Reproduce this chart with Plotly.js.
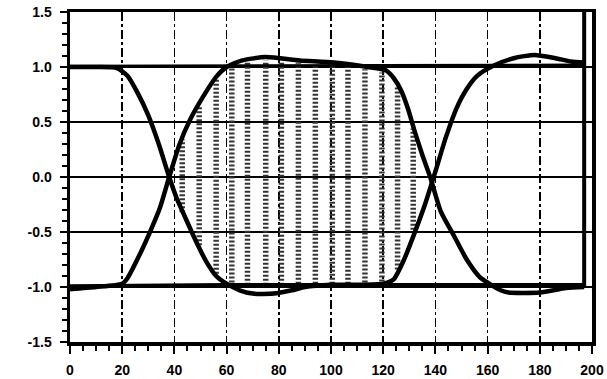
<!DOCTYPE html>
<html>
<head>
<meta charset="utf-8">
<script src="https://cdn.plot.ly/plotly-3.0.1.min.js"></script>
<style>html,body{margin:0;padding:0;background:#fff;}#chart{width:607px;height:379px;}</style>
</head>
<body>
<div id="chart"></div>
<script>
// Eye-diagram traces
var traceA_x = [0, 10, 18, 22, 26, 30, 34, 38, 41, 44, 48, 52, 56, 60, 65, 70, 78, 85, 90, 100, 110, 120, 124, 128, 132, 136, 140, 144, 148, 152, 156, 162, 170, 178, 186, 192, 197];
var traceA_y = [1.0, 1.0, 0.99, 0.92, 0.76, 0.56, 0.30, 0.0, -0.2, -0.36, -0.57, -0.76, -0.9, -0.97, -1.03, -1.06, -1.06, -1.03, -1.0, -0.98, -0.98, -0.97, -0.93, -0.75, -0.51, -0.25, 0.05, 0.36, 0.62, 0.8, 0.92, 1.01, 1.08, 1.11, 1.08, 1.05, 1.04];

var traceB_x = [0, 10, 20, 22, 27, 31, 34.6, 38, 42, 46, 51, 56, 60, 66, 75, 88, 101, 114, 121, 124, 127, 129.5, 132, 135, 138, 142, 147, 152, 157, 160, 165, 168, 180, 190, 197];
var traceB_y = [-1.02, -1.0, -0.97, -0.92, -0.69, -0.48, -0.27, 0.0, 0.3, 0.52, 0.73, 0.91, 1.0, 1.06, 1.09, 1.06, 1.04, 1.0, 0.97, 0.9, 0.78, 0.62, 0.42, 0.2, 0.0, -0.31, -0.53, -0.75, -0.91, -0.96, -1.03, -1.05, -1.05, -1.01, -1.0];

var flatLow_x = [0, 60, 120, 197];
var flatLow_y = [-0.99, -0.98, -0.98, -0.98];
var flatHigh_x = [0, 197];
var flatHigh_y = [1.01, 1.02];
var edge_x = [197, 197];
var edge_y = [-1.0, 1.5];

// Stippled columns inside the eye opening
var colX   = [43, 49.5, 56, 62, 68, 75, 81, 87.5, 94, 100.5, 106.5, 113, 119.5, 125.5, 131.5];
var colTop = [0.34, 0.64, 0.89, 1.0, 1.04, 1.06, 1.06, 1.04, 1.03, 1.02, 1.0, 0.98, 0.95, 0.82, 0.44];
var colBot = [-0.32, -0.62, -0.88, -0.96, -0.98, -0.98, -0.98, -0.97, -0.97, -0.97, -0.97, -0.96, -0.95, -0.84, -0.48];

// Tick labels
var xTickVals = [0, 20, 40, 60, 80, 100, 120, 140, 160, 180, 200];
var xTickText = ['0', '20', '40', '60', '80', '100', '120', '140', '160', '180', '200'];
var yTickVals = [-1.5, -1.0, -0.5, 0.0, 0.5, 1.0, 1.5];
var yTickText = ['-1.5', '-1.0', '-0.5', '0.0', '0.5', '1.0', '1.5'];

var data = [];
for (var i = 0; i < colX.length; i++) {
  data.push({
    x: [colX[i], colX[i]], y: [colBot[i], colTop[i]],
    mode: 'lines', hoverinfo: 'skip',
    line: {color: '#333', width: 5.5, dash: '2px,2px'}
  });
}
var thick = {color: '#000', width: 4.5, shape: 'spline', smoothing: 0.6};
data.push({x: flatLow_x, y: flatLow_y, mode: 'lines', line: {color: '#000', width: 3.5}});
data.push({x: flatHigh_x, y: flatHigh_y, mode: 'lines', line: {color: '#000', width: 2.5}});
data.push({x: traceA_x, y: traceA_y, mode: 'lines', line: thick});
data.push({x: traceB_x, y: traceB_y, mode: 'lines', line: thick});
data.push({x: edge_x, y: edge_y, mode: 'lines', line: {color: '#000', width: 4}});

var tickFont = {family: 'Liberation Sans, Arial, sans-serif', size: 14, weight: 'bold', color: '#000'};

var layout = {
  width: 607, height: 379,
  margin: {l: 70, r: 15, t: 12, b: 37},
  paper_bgcolor: '#fff', plot_bgcolor: '#fff',
  showlegend: false,
  xaxis: {
    range: [0, 200], tickmode: 'array', tickvals: xTickVals, ticktext: xTickText,
    ticks: 'outside', ticklen: 8, tickwidth: 2, tickcolor: '#000',
    showline: true, linecolor: '#000', linewidth: 3.5, mirror: true,
    showgrid: true, gridcolor: '#000', gridwidth: 1.5, griddash: 'dashdot',
    zeroline: false, tickfont: tickFont, ticklabelstandoff: 5,
    minor: {tickmode: 'linear', tick0: 0, dtick: 5, ticks: 'outside', ticklen: 5, tickwidth: 2, tickcolor: '#000', showgrid: false}
  },
  yaxis: {
    range: [-1.5, 1.5], tickmode: 'array', tickvals: yTickVals, ticktext: yTickText,
    ticks: 'outside', ticklen: 7, tickwidth: 2, tickcolor: '#000',
    showline: true, linecolor: '#000', linewidth: 3.5, mirror: true,
    showgrid: true, gridcolor: '#000', gridwidth: 2,
    zeroline: false, tickfont: tickFont, ticklabelstandoff: 5,
    minor: {tickmode: 'linear', tick0: 0, dtick: 0.1, ticks: 'outside', ticklen: 5, tickwidth: 2, tickcolor: '#000', showgrid: false}
  }
};

Plotly.newPlot('chart', data, layout, {displayModeBar: false, staticPlot: true});
</script>
</body>
</html>
